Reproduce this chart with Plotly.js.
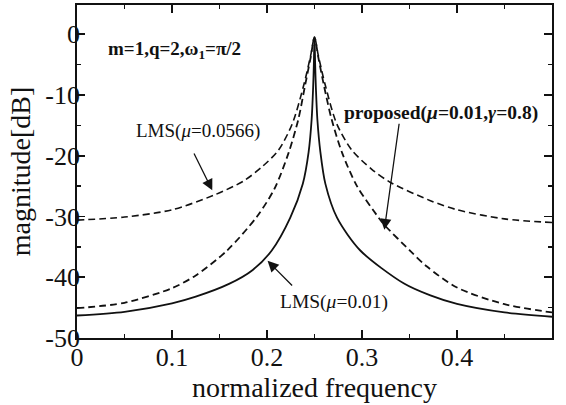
<!DOCTYPE html>
<html>
<head>
<meta charset="utf-8">
<script src="https://cdn.plot.ly/plotly-3.0.1.min.js"></script>
<style>html,body{margin:0;padding:0;background:#fff;}#chart{width:566px;height:405px;}</style>
</head>
<body>
<div id="chart"></div>
<script>
// LMS (mu = 0.01) - solid
const fSolid  = [0, 0.05, 0.1, 0.125, 0.16, 0.185, 0.205, 0.2245, 0.2377, 0.2438, 0.247, 0.2485, 0.2493, 0.25, 0.2507, 0.2515, 0.253, 0.2562, 0.2614, 0.2737, 0.2982, 0.3438, 0.372, 0.4, 0.45, 0.5];
const dbSolid = [-46.3, -45.7, -44.3, -43.2, -41.1, -38.8, -35.6, -30.2, -24.6, -19.4, -14.0, -9.0, -5.0, -0.5, -5.0, -9.0, -14.0, -19.4, -24.6, -30.2, -35.6, -41.0, -43.0, -44.4, -45.8, -46.5];
// proposed (mu = 0.01, gamma = 0.8) - inner dashed
const fProp  = [0, 0.05, 0.1, 0.125, 0.158, 0.1895, 0.208, 0.2228, 0.233, 0.24, 0.246, 0.25, 0.254, 0.26, 0.268, 0.279, 0.2947, 0.3175, 0.323, 0.351, 0.368, 0.4, 0.449, 0.5];
const dbProp = [-45.1, -44.2, -41.8, -39.7, -35.6, -30.0, -25.4, -19.5, -14.0, -8.5, -3.8, -0.5, -3.8, -8.5, -14.0, -19.5, -25.0, -30.2, -31.3, -35.7, -38.2, -41.7, -44.4, -45.8];
// LMS (mu = 0.0566) - outer dashed
const fLms2  = [0, 0.05, 0.1, 0.144, 0.175, 0.195, 0.212, 0.2265, 0.2385, 0.246, 0.25, 0.254, 0.2615, 0.2735, 0.2894, 0.31, 0.33, 0.372, 0.4, 0.45, 0.5];
const dbLms2 = [-30.6, -30.1, -28.9, -26.5, -24.2, -21.8, -19.1, -14.8, -8.5, -3.5, -0.5, -3.5, -8.5, -14.8, -19.1, -22.2, -24.4, -27.4, -28.9, -30.4, -31.0];

const xTickVals = [0, 0.1, 0.2, 0.3, 0.4, 0.5];
const xTickText = ['0', '0.1', '0.2', '0.3', '0.4', '0.5'];
const yTickVals = [-50, -40, -30, -20, -10, 0];
const yTickText = ['-50', '-40', '-30', '-20', '-10', '0'];
const xMinorVals = [0.05, 0.15, 0.25, 0.35, 0.45];
const yMinorVals = [-45, -35, -25, -15, -5];

const serif = 'Liberation Serif, Times New Roman, serif';

const traces = [
  {x: fLms2, y: dbLms2, mode: 'lines', line: {color: '#111', width: 1.6, dash: '7px,4px', shape: 'spline', smoothing: 0.8}},
  {x: fProp, y: dbProp, mode: 'lines', line: {color: '#111', width: 1.8, dash: '7px,4px', shape: 'spline', smoothing: 0.8}},
  {x: fSolid, y: dbSolid, mode: 'lines', line: {color: '#111', width: 1.8, shape: 'spline', smoothing: 0.8}}
];

const axisCommon = {
  showline: true, linecolor: '#111', linewidth: 1.8, mirror: 'allticks',
  ticks: 'inside', ticklen: 8, tickwidth: 1.6, tickcolor: '#111',
  showgrid: false, zeroline: false,
  tickfont: {family: serif, size: 26, color: '#111'}
};

const layout = {
  width: 566, height: 405,
  margin: {l: 77, r: 14, t: 5, b: 67},
  paper_bgcolor: '#fff', plot_bgcolor: '#fff',
  showlegend: false,
  xaxis: Object.assign({}, axisCommon, {
    range: [0, 0.5], tickvals: xTickVals, ticktext: xTickText, ticklabelstandoff: -5,
    minor: {tickvals: xMinorVals, ticks: 'inside', ticklen: 4, tickwidth: 1.3, tickcolor: '#111'},
    title: {text: 'normalized frequency', font: {family: serif, size: 28, color: '#111'}, standoff: 4}
  }),
  yaxis: Object.assign({}, axisCommon, {
    range: [-50, 4.8], tickvals: yTickVals, ticktext: yTickText, ticklabelstandoff: -10,
    minor: {tickvals: yMinorVals, ticks: 'inside', ticklen: 4, tickwidth: 1.3, tickcolor: '#111'},
    title: {text: 'magnitude[dB]', font: {family: serif, size: 28, color: '#111'}, standoff: 6}
  }),
  annotations: [
    {xref: 'paper', yref: 'paper', x: 0.06, y: 0.865, xanchor: 'left', yanchor: 'middle', showarrow: false,
     text: '<b>m=1,q=2,ω<sub>1</sub>=π/2</b>', font: {family: serif, size: 19, color: '#111'}},
    {xref: 'x', yref: 'y', x: 0.1275, y: -15.9, showarrow: false,
     text: 'LMS(<i>μ</i>=0.0566)', font: {family: serif, size: 19, color: '#111'}},
    {xref: 'x', yref: 'y', x: 0.3835, y: -12.9, showarrow: false,
     text: '<b>proposed(<i>μ</i>=0.01,<i>γ</i>=0.8)</b>', font: {family: serif, size: 19.5, color: '#111'}},
    {xref: 'x', yref: 'y', x: 0.2705, y: -44.1, showarrow: false,
     text: 'LMS(<i>μ</i>=0.01)', font: {family: serif, size: 19.5, color: '#111'}},
    {xref: 'x', yref: 'y', axref: 'x', ayref: 'y', x: 0.1424, y: -25.7, ax: 0.1224, ay: -19.4,
     text: '', showarrow: true, arrowhead: 2, arrowsize: 1.7, arrowwidth: 1.3, arrowcolor: '#111'},
    {xref: 'x', yref: 'y', axref: 'x', ayref: 'y', x: 0.3235, y: -32.2, ax: 0.3393, ay: -14.5,
     text: '', showarrow: true, arrowhead: 2, arrowsize: 1.7, arrowwidth: 1.3, arrowcolor: '#111'},
    {xref: 'x', yref: 'y', axref: 'x', ayref: 'y', x: 0.2006, y: -37.3, ax: 0.228, ay: -41.6,
     text: '', showarrow: true, arrowhead: 2, arrowsize: 1.7, arrowwidth: 1.3, arrowcolor: '#111'}
  ]
};

Plotly.newPlot('chart', traces, layout, {displayModeBar: false, staticPlot: true});
</script>
</body>
</html>
